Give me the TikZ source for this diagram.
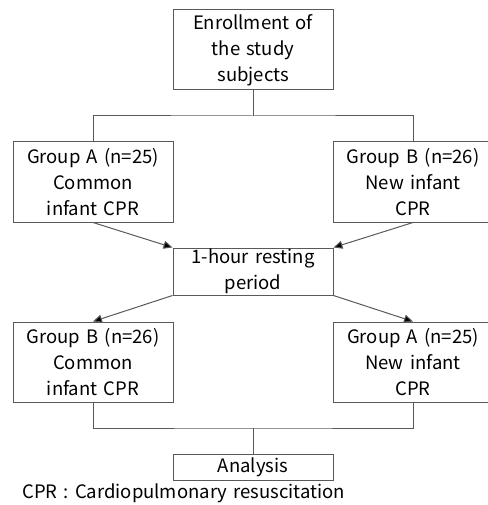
\documentclass[tikz,border=0pt]{standalone}
\usepackage{fontspec}
\setmainfont[WordSpace=1.5]{Noto Sans CJK KR}
\usetikzlibrary{arrows.meta}
\begin{document}
\begin{tikzpicture}[x=1pt,y=-1pt,
    box/.style={draw=black!65,line width=1pt,inner sep=0pt,minimum width=160pt,
      align=center,font=\fontsize{18.5}{26}\selectfont},
    link/.style={draw=black!65,line width=1pt},
    arr/.style={link,-{Triangle[length=9pt,width=8pt,fill=black]}}]
  \useasboundingbox (0,0) rectangle (487,505);
  \node[box,minimum height=80pt] (enroll) at (253,50) {Enrollment of\\the study\\subjects};
  \node[box,minimum height=80pt] (grpa) at (93,182) {Group A (n=25)\\Common\\infant CPR};
  \node[box,minimum height=80pt] (grpb) at (413,182) {Group B (n=26)\\New infant\\CPR};
  \node[box,minimum height=47pt] (rest) at (253,271.5) {1-hour resting\\period};
  \node[box,minimum height=80pt] (crossb) at (93,362) {Group B (n=26)\\Common\\infant CPR};
  \node[box,minimum height=80pt] (crossa) at (413,362) {Group A (n=25)\\New infant\\CPR};
  \node[box,minimum height=26pt] (analysis) at (253,467) {Analysis};
  \node[anchor=west,inner sep=0pt,font=\fontsize{18.5}{26}\selectfont] (note) at (22,493)
    {CPR : Cardiopulmonary resuscitation};
  \coordinate (split) at (253,116);
  \coordinate (merge) at (253,428);
  \begin{scope}[link]
    \draw (enroll) -- (split);
    \draw (grpa.north) |- (split) -| (grpb.north);
    \draw[arr] (grpa.south) -- (rest.north west);
    \draw[arr] (grpb.south) -- (rest.north east);
    \draw[arr] (rest.south west) -- (crossb.north);
    \draw[arr] (rest.south east) -- (crossa.north);
    \draw (crossb.south) |- (merge) -| (crossa.south);
    \draw (merge) -- (analysis);
  \end{scope}
\end{tikzpicture}
\end{document}
